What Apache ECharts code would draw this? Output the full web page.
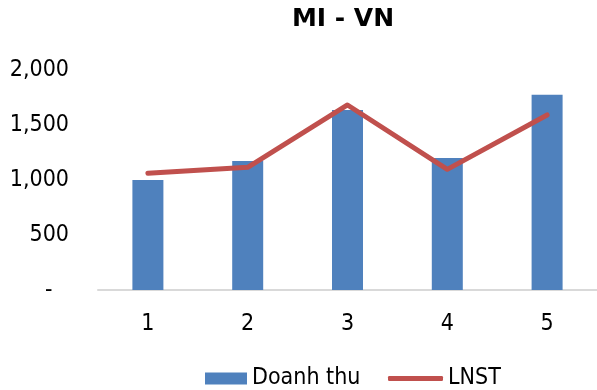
<!DOCTYPE html>
<html>
<head>
<meta charset="utf-8">
<script src="https://cdn.jsdelivr.net/npm/echarts@6/dist/echarts.min.js"></script>
<style>
html,body{margin:0;padding:0;background:#fff;}
#chart{width:597px;height:390px;}
</style>
</head>
<body>
<div id="chart"></div>
<script>
const categories = ['1', '2', '3', '4', '5'];
const doanhThu = [1000, 1173, 1636, 1200, 1775];
const lnst = [1061, 1115, 1682, 1097, 1591];
const yTickLabels = ['-', '500', '1,000', '1,500', '2,000'];

const FONT = '"DejaVu Sans Condensed", "DejaVu Sans", sans-serif';
const chart = echarts.init(document.getElementById('chart'), null, {renderer: 'canvas'});
chart.setOption({
  animation: false,
  backgroundColor: '#ffffff',
  title: {
    text: 'MI - VN',
    left: 338, top: 2,
    textAlign: 'center',
    textStyle: {fontFamily: '"DejaVu Sans", sans-serif', fontWeight: 'bold', fontSize: 25, color: '#000'}
  },
  legend: [{
    data: [{name: 'Doanh thu', icon: 'rect'}],
    left: 200, top: 362,
    itemWidth: 42, itemHeight: 12, itemGap: 5,
    textStyle: {fontFamily: FONT, fontSize: 23, color: '#000'}
  }, {
    data: [{name: 'LNST', icon: 'roundRect'}],
    left: 383, top: 362,
    itemWidth: 55, itemHeight: 5,
    textStyle: {fontFamily: FONT, fontSize: 23, color: '#000'}
  }],
  grid: {left: 98, right: 0, top: 70, bottom: 100, containLabel: false},
  xAxis: {
    type: 'category',
    data: categories,
    axisLine: {lineStyle: {color: '#D9D9D9', width: 2}},
    axisTick: {show: false},
    axisLabel: {fontFamily: FONT, fontSize: 23, color: '#000', margin: 23}
  },
  yAxis: {
    type: 'value',
    min: 0, max: 2000, interval: 500,
    splitLine: {show: false},
    axisLine: {show: false},
    axisTick: {show: false},
    axisLabel: {
      fontFamily: FONT, fontSize: 23, color: '#000', margin: 29,
      formatter: function (v) {
        const i = Math.round(v / 500);
        return i === 0 ? '{dash|' + yTickLabels[0] + '}' : yTickLabels[i];
      },
      rich: {
        dash: {fontFamily: FONT, fontSize: 23, color: '#000', width: 24, align: 'left'}
      }
    }
  },
  series: [{
    name: 'Doanh thu',
    type: 'bar',
    data: doanhThu,
    barWidth: 31,
    itemStyle: {color: '#4F81BD'}
  }, {
    name: 'LNST',
    type: 'line',
    data: lnst,
    symbol: 'none',
    lineStyle: {color: '#C0504D', width: 5, cap: 'round', join: 'round'},
    itemStyle: {color: '#C0504D'},
    z: 3
  }]
});
</script>
</body>
</html>
